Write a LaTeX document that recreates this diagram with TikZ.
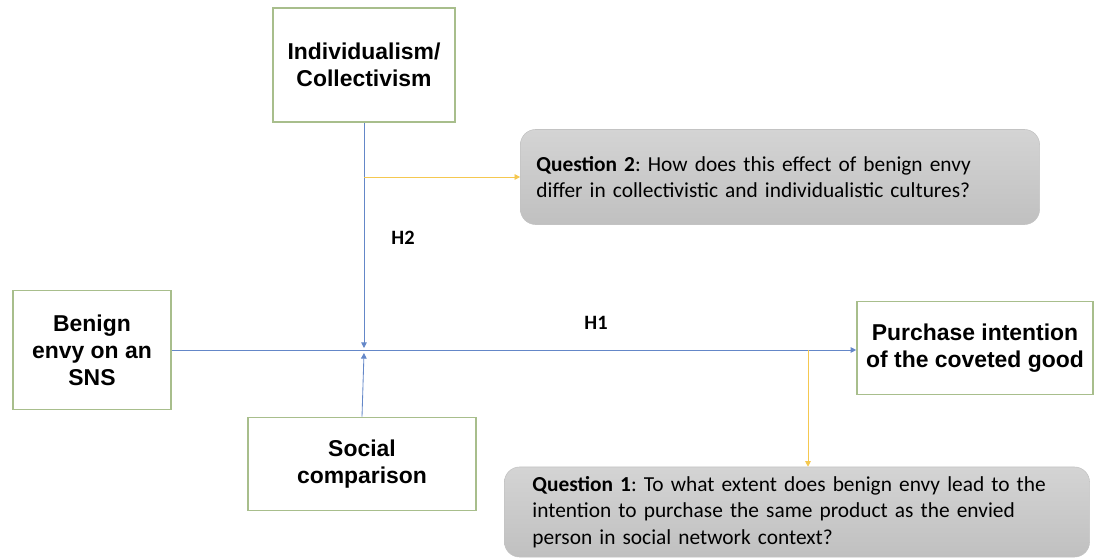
\documentclass[tikz,border=0pt]{standalone}
\usepackage{fontspec}
\setmainfont{Liberation Sans}
\newfontfamily\notefont{Carlito}
\usepackage{xcolor}
\usetikzlibrary{calc, positioning, arrows.meta}
\frenchspacing

\definecolor{boxgreen}{RGB}{168,190,140}
\definecolor{linkblue}{RGB}{100,135,200}
\definecolor{qyellow}{RGB}{245,200,80}
\definecolor{qgraytop}{RGB}{212,212,212}
\definecolor{qgraybot}{RGB}{192,192,192}
\definecolor{qborder}{RGB}{195,195,195}

\begin{document}
\begin{tikzpicture}[
        x=0.025cm, y=-0.025cm,
        % construct boxes
        construct/.style={
            rectangle,
            draw=boxgreen,
            line width=1.1pt,
            fill=white,
            align=center,
            inner sep=0pt,
            font=\fontsize{16.3}{19.2}\selectfont\bfseries
        },
        % research question boxes
        question/.style={
            rectangle,
            rounded corners=0.38cm,
            draw=qborder,
            top color=qgraytop,
            bottom color=qgraybot,
            align=left,
            inner ysep=0pt,
            font=\notefont\fontsize{15.2}{18.8}\selectfont
        },
        hyp/.style={
            font=\notefont\fontsize{14.5}{17}\selectfont\bfseries
        },
        link/.style={
            draw=linkblue,
            line width=0.6pt,
            -{Triangle[length=4pt,width=4pt]}
        },
        ask/.style={
            draw=qyellow,
            line width=0.6pt,
            -{Triangle[length=4pt,width=4pt]}
        }
    ]
    \useasboundingbox (0,0) rectangle (1094,558);

    % --- CONSTRUCTS ---
    \node[construct, minimum width=4.55cm, minimum height=2.85cm] (indiv) at (364,65) {Individualism/\\Collectivism};
    \node[construct, minimum width=3.95cm, minimum height=2.975cm] (benign) at (92,350) {Benign\\envy on an\\SNS};
    \node[construct, minimum width=5.7cm, minimum height=2.325cm] (social) at (362,464) {Social\\comparison};
    \node[construct, minimum width=5.9cm, minimum height=2.325cm] (purchase) at (975,348) {Purchase intention\\of the coveted good};

    % --- QUESTIONS ---
    \node[question, minimum width=12.975cm, minimum height=2.375cm, inner xsep=0.4cm, text width=12.175cm] (q2) at (780,177)
        {\textbf{Question 2}: How does this effect of benign envy\\differ in collectivistic and individualistic cultures?};
    \node[question, minimum width=14.625cm, minimum height=2.25cm, inner xsep=0.7cm, text width=13.225cm] (q1) at (797,512)
        {\textbf{Question 1}: To what extent does benign envy lead to the\\intention to purchase the same product as the envied\\person in social network context?};

    % Meeting points on the main path
    \coordinate (hitTop) at (364,348);
    \coordinate (hitBot) at (364,353);
    \coordinate (split) at (808,350);

    % Main effect
    \draw[link] (benign.east |- split) -- (purchase.west |- split);

    % Moderators
    \draw[link] (indiv.south) -- (hitTop);
    \draw[link] (social.north) -- (hitBot);

    % Links to the questions
    \draw[ask] (indiv.south |- q2.west) -- (q2.west);
    \draw[ask] (split) -- (split |- q1.north);

    % Hypotheses
    \node[hyp] (h2) at (403,238) {H2};
    \node[hyp] (h1) at (596,323) {H1};

\end{tikzpicture}
\end{document}
